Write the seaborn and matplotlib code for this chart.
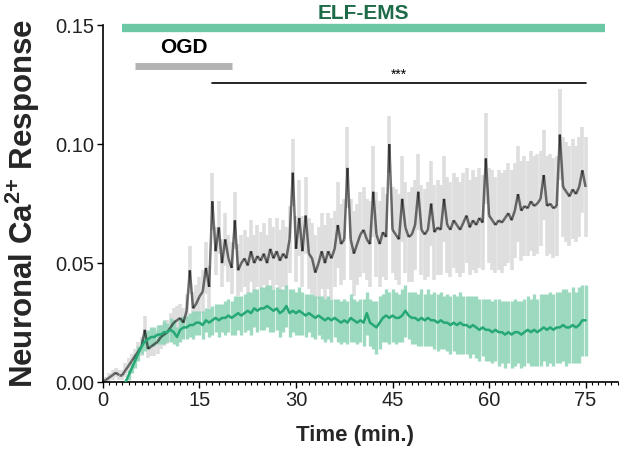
import numpy as np
import pandas as pd
import seaborn as sns
import matplotlib.pyplot as plt
from matplotlib.collections import LineCollection
from matplotlib.ticker import MultipleLocator, FormatStrFormatter

nan = np.nan

# sampling grid (min.)
time = np.arange(0, 75.5, 0.5)

# OGD only (black) - mean and error
ogd_mean = [
    0.001, 0.001, 0.002, 0.003, 0.004, 0.003, 0.003, 0.005, 0.007, 0.009,
    0.011, 0.013, 0.015, 0.022, 0.014, 0.015, 0.016, 0.017, 0.019, 0.020,
    0.021, 0.023, 0.025, 0.026, 0.027, 0.025, 0.030, 0.047, 0.031, 0.033,
    0.036, 0.038, 0.048, 0.040, 0.076, 0.055, 0.065, 0.050, 0.060, 0.052,
    0.048, 0.068, 0.047, 0.050, 0.052, 0.049, 0.055, 0.050, 0.053, 0.051,
    0.054, 0.050, 0.056, 0.052, 0.055, 0.051, 0.054, 0.052, 0.060, 0.088,
    0.056, 0.069, 0.055, 0.070, 0.054, 0.052, 0.046, 0.050, 0.055, 0.050,
    0.055, 0.052, 0.056, 0.066, 0.058, 0.060, 0.090, 0.060, 0.054, 0.058,
    0.062, 0.064, 0.060, 0.058, 0.080, 0.062, 0.058, 0.063, 0.061, 0.100,
    0.064, 0.062, 0.060, 0.077, 0.065, 0.061, 0.062, 0.066, 0.080, 0.064,
    0.062, 0.064, 0.075, 0.063, 0.065, 0.064, 0.077, 0.066, 0.064, 0.068,
    0.066, 0.064, 0.067, 0.070, 0.065, 0.068, 0.066, 0.069, 0.067, 0.094,
    0.070, 0.068, 0.066, 0.068, 0.067, 0.069, 0.071, 0.068, 0.072, 0.079,
    0.072, 0.074, 0.073, 0.076, 0.074, 0.075, 0.077, 0.087, 0.074, 0.075,
    0.073, 0.074, 0.104, 0.082, 0.080, 0.078, 0.081, 0.079, 0.082, 0.089,
    0.082,
]
ogd_err = [
    0.001, 0.001, 0.002, 0.002, 0.002, 0.002, 0.002, 0.003, 0.003, 0.003,
    0.003, 0.004, 0.004, 0.006, 0.004, 0.004, 0.005, 0.005, 0.005, 0.005,
    0.005, 0.006, 0.006, 0.006, 0.006, 0.006, 0.007, 0.010, 0.007, 0.008,
    0.008, 0.009, 0.011, 0.009, 0.012, 0.010, 0.011, 0.010, 0.011, 0.010,
    0.011, 0.012, 0.011, 0.012, 0.012, 0.012, 0.013, 0.012, 0.013, 0.012,
    0.013, 0.012, 0.013, 0.013, 0.014, 0.013, 0.014, 0.013, 0.014, 0.014,
    0.014, 0.016, 0.015, 0.016, 0.015, 0.015, 0.016, 0.015, 0.016, 0.016,
    0.016, 0.017, 0.016, 0.018, 0.017, 0.017, 0.017, 0.017, 0.018, 0.017,
    0.018, 0.018, 0.017, 0.018, 0.019, 0.018, 0.018, 0.019, 0.018, 0.012,
    0.018, 0.019, 0.019, 0.018, 0.019, 0.019, 0.020, 0.019, 0.016, 0.019,
    0.019, 0.020, 0.018, 0.020, 0.020, 0.019, 0.018, 0.020, 0.020, 0.020,
    0.020, 0.020, 0.021, 0.020, 0.020, 0.021, 0.020, 0.021, 0.020, 0.019,
    0.020, 0.021, 0.020, 0.021, 0.021, 0.020, 0.021, 0.021, 0.020, 0.020,
    0.021, 0.021, 0.020, 0.021, 0.021, 0.021, 0.020, 0.019, 0.021, 0.021,
    0.021, 0.021, 0.019, 0.021, 0.021, 0.021, 0.021, 0.020, 0.021, 0.018,
    0.021,
]

# OGD + ELF-EMS (green) - mean and error
elf_mean = [
    nan, nan, nan, nan, nan, nan, nan, 0.000, 0.003, 0.006,
    0.009, 0.012, 0.015, 0.017, 0.018, 0.019, 0.019, 0.020, 0.020, 0.021,
    0.021, 0.022, 0.021, 0.019, 0.022, 0.023, 0.023, 0.024, 0.024, 0.025,
    0.025, 0.024, 0.026, 0.025, 0.026, 0.027, 0.026, 0.027, 0.027, 0.028,
    0.027, 0.028, 0.029, 0.028, 0.029, 0.030, 0.029, 0.031, 0.030, 0.031,
    0.031, 0.032, 0.031, 0.030, 0.031, 0.029, 0.030, 0.032, 0.029, 0.030,
    0.029, 0.030, 0.029, 0.028, 0.029, 0.028, 0.027, 0.028, 0.027, 0.026,
    0.027, 0.026, 0.027, 0.026, 0.025, 0.026, 0.025, 0.027, 0.026, 0.025,
    0.026, 0.025, 0.029, 0.025, 0.024, 0.023, 0.025, 0.027, 0.028, 0.027,
    0.028, 0.027, 0.027, 0.028, 0.030, 0.028, 0.027, 0.027, 0.026, 0.027,
    0.026, 0.027, 0.026, 0.026, 0.025, 0.026, 0.025, 0.025, 0.024, 0.025,
    0.024, 0.025, 0.024, 0.024, 0.023, 0.024, 0.023, 0.022, 0.023, 0.022,
    0.022, 0.021, 0.022, 0.021, 0.021, 0.020, 0.021, 0.020, 0.021, 0.021,
    0.020, 0.021, 0.022, 0.021, 0.022, 0.021, 0.022, 0.023, 0.022, 0.023,
    0.022, 0.023, 0.023, 0.024, 0.023, 0.023, 0.024, 0.023, 0.024, 0.026,
    0.026,
]
elf_err = [
    nan, nan, nan, nan, nan, nan, nan, 0.001, 0.002, 0.002,
    0.003, 0.003, 0.003, 0.004, 0.004, 0.004, 0.004, 0.004, 0.004, 0.005,
    0.004, 0.005, 0.005, 0.004, 0.005, 0.005, 0.005, 0.005, 0.006, 0.005,
    0.005, 0.006, 0.005, 0.006, 0.006, 0.006, 0.007, 0.006, 0.007, 0.007,
    0.007, 0.008, 0.007, 0.008, 0.008, 0.008, 0.009, 0.008, 0.009, 0.009,
    0.009, 0.009, 0.010, 0.009, 0.009, 0.010, 0.009, 0.009, 0.010, 0.009,
    0.009, 0.010, 0.009, 0.009, 0.008, 0.009, 0.009, 0.008, 0.009, 0.009,
    0.009, 0.009, 0.008, 0.009, 0.009, 0.009, 0.009, 0.010, 0.009, 0.009,
    0.009, 0.010, 0.009, 0.010, 0.010, 0.011, 0.011, 0.010, 0.011, 0.011,
    0.011, 0.011, 0.010, 0.011, 0.011, 0.010, 0.011, 0.011, 0.011, 0.012,
    0.011, 0.012, 0.011, 0.012, 0.012, 0.012, 0.011, 0.012, 0.012, 0.012,
    0.012, 0.013, 0.012, 0.012, 0.013, 0.012, 0.013, 0.013, 0.012, 0.013,
    0.013, 0.013, 0.013, 0.014, 0.013, 0.014, 0.013, 0.014, 0.014, 0.013,
    0.014, 0.014, 0.014, 0.014, 0.015, 0.014, 0.015, 0.014, 0.015, 0.015,
    0.015, 0.015, 0.015, 0.015, 0.016, 0.015, 0.016, 0.015, 0.016, 0.015,
    0.015,
]

# treatment periods (min.)
elf_period = [3, 78]
ogd_period = [5, 20]
sig_period = [17, 75]

df = pd.DataFrame({"time": time, "ogd": ogd_mean, "elf": elf_mean,
                   "ogd_err": ogd_err, "elf_err": elf_err})

sns.set_theme(style="ticks")
plt.rcParams["font.family"] = ["Liberation Sans", "DejaVu Sans"]
plt.rcParams["mathtext.fontset"] = "custom"
plt.rcParams["mathtext.rm"] = "Liberation Sans"
plt.rcParams["mathtext.bf"] = "Liberation Sans:bold"

fig, ax = plt.subplots(figsize=(6.24, 4.55), dpi=100)
fig.subplots_adjust(left=0.165, right=0.99, bottom=0.16, top=0.945)

# error bars
ax.vlines(df.time, df.ogd - df.ogd_err, df.ogd + df.ogd_err,
          color="#dedede", lw=2.6, zorder=1)
ax.vlines(df.time, df.elf - df.elf_err, df.elf + df.elf_err,
          color="#92d6ba", lw=2.4, alpha=0.9, zorder=2)

# black mean drawn as separate translucent segments so spikes look darker
pts = np.column_stack([df.time, df.ogd])
segs = np.stack([pts[:-1], pts[1:]], axis=1)
ax.add_collection(LineCollection(segs, colors=[(0, 0, 0, 0.55)], lw=1.8, zorder=3))

sns.lineplot(data=df, x="time", y="elf", color="#25a874", lw=1.8, ax=ax, zorder=4)

ax.set_xlim(0, 80)
ax.set_ylim(0, 0.15)
ax.xaxis.set_major_locator(MultipleLocator(15))
ax.xaxis.set_minor_locator(MultipleLocator(1))
ax.yaxis.set_major_locator(MultipleLocator(0.05))
ax.yaxis.set_major_formatter(FormatStrFormatter("%.2f"))
ax.tick_params(axis="both", which="major", labelsize=14.5, length=4, width=1,
               color="black", labelcolor="#222222", pad=2)
ax.tick_params(axis="x", which="minor", length=2, width=0.8, color="black")
for s in ["left", "bottom"]:
    ax.spines[s].set_color("black")
    ax.spines[s].set_linewidth(1.2)
sns.despine(ax=ax)

ax.set_xlabel("Time (min.)", fontsize=16, fontweight="bold")
ax.xaxis.set_label_coords(0.49, -0.12)
ax.set_ylabel(r"Neuronal Ca$^{\mathbf{2}\mathbf{{+}}}$ Response", fontsize=22.5,
              fontweight="bold")
ax.yaxis.set_label_coords(-0.118, 0.5)

# treatment bars and annotations
ax.plot(elf_period, [0.1488, 0.1488], color="#6cc7a4", lw=6, solid_capstyle="butt",
        clip_on=False, zorder=5)
ax.text(np.mean(elf_period), 0.1548, "ELF-EMS", color="#1d6b48", fontsize=15,
        fontweight="bold", ha="center", va="center", clip_on=False)
ax.plot(ogd_period, [0.133, 0.133], color="#b3b3b3", lw=5, solid_capstyle="butt",
        zorder=5)
ax.text(12.5, 0.1405, "OGD", color="black", fontsize=15, fontweight="bold",
        ha="center", va="center")
ax.plot(sig_period, [0.1255, 0.1255], color="black", lw=1.2, zorder=5)
ax.text(46, 0.1262, "***", color="black", fontsize=10, ha="center", va="bottom")

fig.savefig("out.png", dpi=100)
